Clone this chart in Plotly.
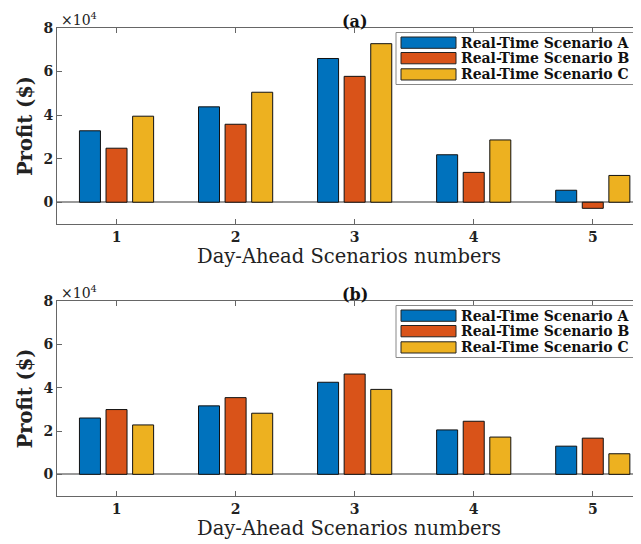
import plotly.graph_objects as go
from plotly.subplots import make_subplots

days = [1, 2, 3, 4, 5]
series_names = ["Real-Time Scenario A", "Real-Time Scenario B", "Real-Time Scenario C"]
colors = ["#0072BD", "#D95319", "#EDB120"]

# Panel (a) profits ($)
a_A = [32800, 43800, 66000, 21800, 5500]
a_B = [24800, 35800, 57800, 13700, -2800]
a_C = [39500, 50500, 72800, 28600, 12300]

# Panel (b) profits ($)
b_A = [26000, 31600, 42500, 20500, 13000]
b_B = [29900, 35400, 46300, 24500, 16700]
b_C = [22800, 28200, 39200, 17200, 9500]

panel_a = [a_A, a_B, a_C]
panel_b = [b_A, b_B, b_C]

FONT = "DejaVu Serif"
OFF = 8  # page body margin offset
W, H = 641 - OFF, 544 - OFF
ML, MR, MT, MB = 57 - OFF, 0, 28 - OFF, 48
PW, PH = W - ML - MR, H - MT - MB


def px(x):
    # window pixel x -> paper
    return (x - OFF - ML) / PW


def py(y):
    # window pixel y -> paper
    return (H - MB - (y - OFF)) / PH


fig = make_subplots(rows=2, cols=1, vertical_spacing=0.0)

for i in range(3):
    fig.add_trace(go.Bar(x=days, y=panel_a[i], name=series_names[i], showlegend=False,
                         marker=dict(color=colors[i], line=dict(color="#111", width=1))),
                  row=1, col=1)
for i in range(3):
    fig.add_trace(go.Bar(x=days, y=panel_b[i], name=series_names[i], showlegend=False,
                         marker=dict(color=colors[i], line=dict(color="#111", width=1))),
                  row=2, col=1)

axis_color = "#666666"
tickfont = dict(family=FONT, size=14, color="#222", weight="bold")

common_x = dict(range=[0.5, 5.405], tickvals=days, ticks="inside", ticklen=5,
                tickcolor=axis_color, showline=True, linecolor=axis_color, linewidth=1,
                mirror="ticks", showgrid=False, zeroline=False, tickfont=tickfont,
                automargin=False,
                title=dict(text="Day-Ahead Scenarios numbers",
                           font=dict(family=FONT, size=19.5, color="#222"), standoff=0))
common_y = dict(range=[-10000, 80000], tickvals=[0, 20000, 40000, 60000, 80000],
                ticktext=["0", "2", "4", "6", "8"], ticks="inside", ticklen=5,
                tickcolor=axis_color, showline=True, linecolor=axis_color, linewidth=1,
                mirror=False, showgrid=False, zeroline=True, zerolinecolor="#9a9a9a",
                zerolinewidth=1.5, tickfont=tickfont, automargin=False,
                title=dict(text="Profit ($)", font=dict(family=FONT, size=19.5, color="#222",
                                                          weight="bold"), standoff=5))

fig.update_layout(
    xaxis=dict(domain=[0, 1], **common_x),
    xaxis2=dict(domain=[0, 1], **common_x),
    yaxis=dict(domain=[py(224), 1.0], **common_y),
    yaxis2=dict(domain=[0.0, py(301)], **common_y),
)

shapes = []
annotations = []

# custom legends (one per panel)
for off in (0, 273):
    shapes.append(dict(type="rect", xref="paper", yref="paper",
                       x0=px(396), x1=px(660), y0=py(84.5 + off), y1=py(32.5 + off),
                       fillcolor="white", line=dict(color="#888", width=1), layer="above"))
    rows = [(37, 48.3), (52.5, 63.8), (68.8, 80)]
    for i, (t, b) in enumerate(rows):
        shapes.append(dict(type="rect", xref="paper", yref="paper",
                           x0=px(401), x1=px(456), y0=py(b + off), y1=py(t + off),
                           fillcolor=colors[i], line=dict(color="#222", width=1),
                           layer="above"))
        annotations.append(dict(text=series_names[i], xref="paper", yref="paper",
                                x=px(459), y=py((t + b) / 2 + off), xanchor="left",
                                yanchor="middle", showarrow=False,
                                font=dict(family=FONT, size=14, color="#111", weight="bold")))

for lab, xr, ytop in (("(a)", "x", 28), ("(b)", "x2", 301)):
    annotations.append(dict(text=lab, x=3, xref=xr, y=py(21 + ytop - 28), yref="paper",
                            yanchor="middle", showarrow=False,
                            font=dict(family=FONT, size=16, color="#111", weight="bold")))
    annotations.append(dict(text="×10<sup>4</sup>", x=px(59), xref="paper",
                            y=py(19 + ytop - 28), yref="paper", xanchor="left",
                            yanchor="middle", showarrow=False,
                            font=dict(family=FONT, size=14, color="#222")))

fig.update_layout(
    width=W, height=H,
    margin=dict(l=ML, r=MR, t=MT, b=MB),
    plot_bgcolor="white", paper_bgcolor="white",
    barmode="group", bargap=0.33, bargroupgap=0.21,
    shapes=shapes, annotations=annotations,
)

fig.write_html("out.html")
